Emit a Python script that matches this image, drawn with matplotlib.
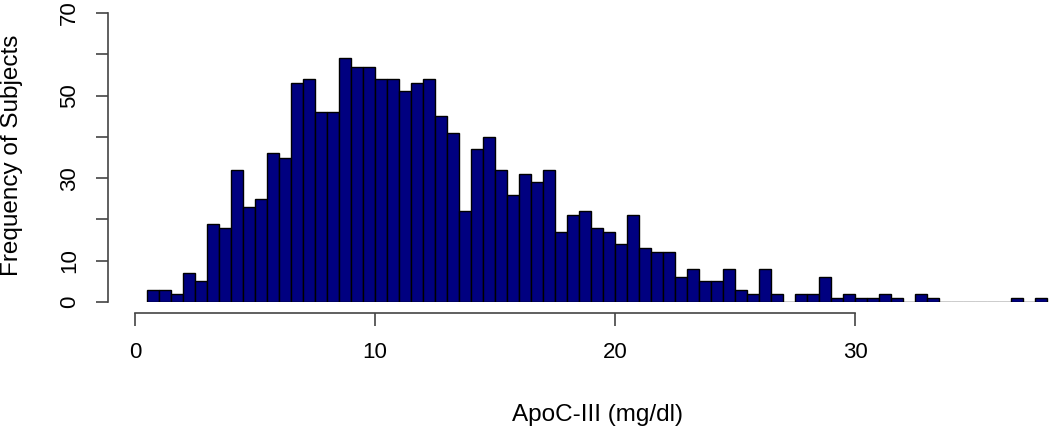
import matplotlib
matplotlib.use('Agg')
import numpy as np
import matplotlib.pyplot as plt

plt.rcParams['font.family'] = ['Liberation Sans', 'DejaVu Sans']

# histogram counts, bins of width 0.5 starting at 0.5 mg/dl
bin_start = 0.5
bin_width = 0.5
counts = [3, 3, 2, 7, 5, 19, 18, 32, 23, 25, 36, 35,
          53, 54, 46, 46, 59, 57, 57, 54, 54, 51, 53, 54,
          45, 41, 22, 37, 40, 32, 26, 31, 29, 32, 17, 21,
          22, 18, 17, 14, 21, 13, 12, 12, 6, 8, 5, 5,
          8, 3, 2, 8, 2, 0, 2, 2, 6, 1, 2, 1,
          1, 2, 1, 0, 2, 1, 0, 0, 0, 0, 0, 0,
          1, 0, 1]
lefts = bin_start + bin_width * np.arange(len(counts))

x_ticks = [0, 10, 20, 30]
y_ticks = [0, 10, 20, 30, 40, 50, 60, 70]
y_ticklabels = ['0', '10', '', '30', '', '50', '', '70']

fig = plt.figure(figsize=(10.5, 4.32), dpi=100)
W, H = 1050, 432
ax = fig.add_axes([135 / W, 1 - 302 / H, (W - 135) / W, (302 - 13) / H])

ax.bar(lefts, counts, width=bin_width, align='edge',
       color='#000080', edgecolor='black', linewidth=1.0)

ax.set_xlim(0, 38.125)
ax.set_ylim(0, 70)

for s in ['top', 'right']:
    ax.spines[s].set_visible(False)
ax.spines['left'].set_position(('outward', 19.5))
ax.spines['bottom'].set_position(('outward', 8))
ax.spines['left'].set_bounds(0, 70)
ax.spines['bottom'].set_bounds(0, 30)
for s in ['left', 'bottom']:
    ax.spines[s].set_color('#444444')
    ax.spines[s].set_linewidth(1.2)

ax.set_xticks(x_ticks)
ax.set_xticklabels([str(v) for v in x_ticks], fontsize=16)
ax.set_yticks(y_ticks)
ax.set_yticklabels(y_ticklabels, fontsize=16, rotation=90, va='center')
ax.tick_params(axis='both', length=9, width=1.2, color='#444444')
ax.tick_params(axis='x', pad=12)
ax.tick_params(axis='y', pad=11)

fig.text(597 / W, 1 - 415 / H, 'ApoC-III (mg/dl)', fontsize=17.5,
         ha='center', va='center')
fig.text(12 / W, 1 - 155 / H, 'Frequency of Subjects', fontsize=17.5,
         ha='center', va='center', rotation=90)

plt.savefig('out.png', dpi=100)
